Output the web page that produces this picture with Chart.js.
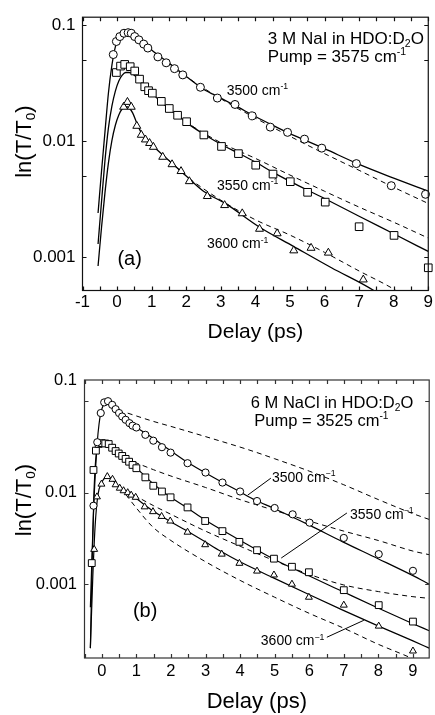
<!DOCTYPE html>
<html><head><meta charset="utf-8">
<script src="https://cdn.jsdelivr.net/npm/chart.js@4.4.1/dist/chart.umd.min.js"></script>
<style>
html,body{margin:0;padding:0;background:#fff;width:435px;height:715px;overflow:hidden;}
#cA{position:absolute;left:0;top:0;}
#cB{position:absolute;left:0;top:357px;}
</style></head><body>
<canvas id="cA" width="435" height="357"></canvas>
<canvas id="cB" width="435" height="358"></canvas>
<script>
// ---------------- Panel (a): 3 M NaI, pump 3575 ----------------
const xTickValuesA = [-1,0,1,2,3,4,5,6,7,8,9];
const xTickLabelsA = ['-1','0','1','2','3','4','5','6','7','8','9'];
const xMinorTicksA = [-1,-0.5,0,0.5,1,1.5,2,2.5,3,3.5,4,4.5,5,5.5,6,6.5,7,7.5,8,8.5,9];
const yTickValuesA = [0.001,0.01,0.1];
const yTickLabelsA = ['0.001','0.01','0.1'];
const yMinorTicksA = [0.001,0.005,0.01,0.05,0.1];

const circA_t = [-0.11,-0.02,0.08,0.20,0.32,0.41,0.51,0.63,0.77,0.89,1.18,1.42,1.66,1.90,2.41,2.90,3.41,3.91,4.43,4.93,5.42,5.92,6.92,7.93,8.92];
const circA_v = [0.0557,0.0722,0.0796,0.085,0.086,0.085,0.0796,0.0746,0.0686,0.0634,0.0532,0.0473,0.0421,0.0372,0.0291,0.0235,0.0207,0.0165,0.0132,0.0119,0.0104,0.0087,0.0064,0.00413,0.00348];
const sqA_t = [-0.02,0.10,0.22,0.38,0.51,0.65,0.80,0.91,1.02,1.28,1.51,1.75,2.01,2.51,3.02,3.51,4.01,4.51,5.01,5.51,6.02,7.00,8.01,9.0];
const sqA_v = [0.039,0.0443,0.0458,0.0438,0.0402,0.0342,0.0294,0.0272,0.0259,0.0220,0.0191,0.0167,0.0147,0.0113,0.0090,0.0078,0.0062,0.0052,0.00447,0.00362,0.00298,0.00183,0.00154,0.00081];
const triA_t = [0.19,0.30,0.41,0.57,0.70,0.82,0.94,1.05,1.32,1.59,1.85,2.09,2.61,3.11,3.62,4.12,4.63,5.11,5.61,6.11,7.12];
const triA_v = [0.0197,0.0217,0.0197,0.0135,0.0113,0.0103,0.0096,0.0089,0.0073,0.0063,0.0055,0.0045,0.00335,0.0028,0.00238,0.00175,0.0016,0.00114,0.0012,0.00109,0.00064];

const fitA3500_t = [-0.55,-0.45,-0.35,-0.25,-0.15,-0.05,0.05,0.15,0.25,0.35,0.5,0.75,1.0,1.5,2.0,2.5,3.0,3.5,4.0,4.5,5.0,5.5,6.0,7.0,8.0,9.0];
const fitA3500_v = [0.0024,0.0055,0.012,0.026,0.045,0.065,0.079,0.086,0.088,0.087,0.082,0.071,0.061,0.047,0.036,0.028,0.0235,0.0196,0.0163,0.0137,0.0116,0.0100,0.0086,0.0063,0.0048,0.0037];
const fitA3550_t = [-0.55,-0.45,-0.35,-0.25,-0.15,-0.05,0.05,0.15,0.25,0.35,0.5,0.65,0.8,1.0,1.25,1.5,1.75,2.0,2.5,3.0,3.5,4.0,4.5,5.0,6.0,7.0,8.0,9.0];
const fitA3550_v = [0.0013,0.003,0.0068,0.013,0.020,0.027,0.033,0.037,0.039,0.039,0.037,0.0335,0.0295,0.026,0.022,0.019,0.0167,0.0145,0.0115,0.0094,0.0079,0.0066,0.0054,0.0045,0.0032,0.00225,0.00159,0.00112];
const fitA3600_t = [-0.55,-0.45,-0.35,-0.25,-0.15,-0.05,0.05,0.15,0.25,0.35,0.45,0.57,0.7,0.85,1.0,1.5,2.0,2.5,3.14,4.1,5.1,6.2,7.45,7.7];
const fitA3600_v = [0.00084,0.0018,0.0036,0.0065,0.0101,0.0137,0.0168,0.019,0.0198,0.0193,0.0175,0.0143,0.0118,0.0103,0.0093,0.0068,0.0050,0.0037,0.00289,0.00183,0.00124,0.00081,0.00051,0.00045];

const dashA3500_t = [1.5,2,3,4,5,6,7,8,9];
const dashA3500_v = [0.047,0.036,0.0232,0.0158,0.0110,0.0078,0.0056,0.0040,0.0029];
const dashA3550_t = [1.75,2,3,4,5,6,7,8,9];
const dashA3550_v = [0.0167,0.0146,0.0097,0.0071,0.0051,0.0037,0.0027,0.0020,0.00146];
const dashA3600_t = [1.5,2,3,4,5,6,7,8,8.3];
const dashA3600_v = [0.0068,0.0050,0.0031,0.0021,0.00155,0.0011,0.00076,0.00053,0.00046];

// ---------------- Panel (b): 6 M NaCl, pump 3525 ----------------
const xTickValuesB = [0,1,2,3,4,5,6,7,8,9];
const xTickLabelsB = ['0','1','2','3','4','5','6','7','8','9'];
const xMinorTicksB = [-0.5,0,0.5,1,1.5,2,2.5,3,3.5,4,4.5,5,5.5,6,6.5,7,7.5,8,8.5,9];
const yTickLabelsB = ['0.001','0.01','0.1'];
const yMinorTicksB = [0.001,0.01,0.1];

const circB_t = [-0.24,-0.13,-0.03,0.07,0.18,0.3,0.4,0.5,0.59,0.69,0.8,0.89,1.0,1.26,1.49,1.74,1.99,2.48,3.0,3.49,4.0,4.49,5.0,5.52,6.01,7.0,8.01,9.0];
const circB_v = [0.0072,0.0356,0.0742,0.097,0.100,0.0912,0.0818,0.0742,0.068,0.0626,0.0575,0.054,0.0516,0.0429,0.037,0.0314,0.0274,0.021,0.0166,0.0129,0.0103,0.0081,0.0068,0.0058,0.0047,0.0032,0.00213,0.0014];
const sqB_t = [-0.29,-0.24,-0.17,-0.09,0.0,0.1,0.2,0.3,0.4,0.49,0.59,0.69,0.79,0.89,1.0,1.26,1.49,1.74,1.99,2.48,2.99,3.49,3.98,4.49,4.98,5.5,5.99,7.0,8.01,9.0];
const sqB_v = [0.0017,0.0177,0.0288,0.0341,0.0348,0.0345,0.034,0.031,0.0285,0.0268,0.0252,0.0234,0.0218,0.0201,0.0185,0.0147,0.0119,0.0103,0.0089,0.0069,0.0049,0.0038,0.0029,0.00235,0.0019,0.00155,0.00135,0.00086,0.00059,0.00039];
const triB_t = [-0.22,-0.14,-0.01,0.16,0.31,0.4,0.52,0.63,0.75,0.85,0.98,1.24,1.48,1.73,1.98,2.48,2.99,3.47,3.98,4.49,4.98,5.5,5.99,7.0,8.01,9.0];
const triB_v = [0.0024,0.009,0.0124,0.015,0.014,0.0122,0.0112,0.0105,0.0100,0.0094,0.0089,0.0070,0.0062,0.0055,0.0049,0.0037,0.0027,0.00213,0.00169,0.00139,0.00126,0.00100,0.00072,0.00059,0.000348,0.000186];

const fitB3500_t = [-0.33,-0.28,-0.23,-0.18,-0.13,-0.08,-0.03,0.045,0.115,0.2,0.3,0.4,0.55,0.7,0.9,1.41,1.92,2.42,2.93,3.43,3.94,4.44,4.95,5.96,6.97,7.99,9.0,9.47];
const fitB3500_v = [0.00056,0.0022,0.0075,0.018,0.036,0.056,0.074,0.091,0.099,0.1,0.093,0.083,0.071,0.063,0.055,0.041,0.030,0.0222,0.017,0.0133,0.0105,0.0083,0.0068,0.0045,0.0029,0.0019,0.00124,0.001];
const fitB3550_t = [-0.33,-0.28,-0.23,-0.18,-0.13,-0.06,0.01,0.095,0.2,0.3,0.4,0.6,0.9,1.41,1.92,2.42,2.93,3.43,3.94,4.95,5.96,6.97,7.99,9.0,9.47];
const fitB3550_v = [0.0002,0.0017,0.009,0.022,0.03,0.034,0.0348,0.0346,0.0335,0.031,0.0288,0.025,0.0202,0.0133,0.0093,0.0070,0.0052,0.0040,0.0031,0.0019,0.00125,0.00083,0.00055,0.00037,0.00031];
const fitB3600_t = [-0.33,-0.26,-0.19,-0.11,-0.006,0.095,0.176,0.3,0.4,0.6,0.9,1.41,1.92,2.42,2.93,3.43,3.94,4.95,5.96,6.97,7.99,9.0,9.47];
const fitB3600_v = [0.0002,0.0012,0.0045,0.0095,0.0128,0.0146,0.015,0.014,0.0125,0.0108,0.0092,0.0066,0.0050,0.0039,0.0030,0.0023,0.0018,0.00118,0.00078,0.00052,0.00035,0.00024,0.0002];

const dashB1_t = [0.75,1.5,2,3,4.26,5,6,7,8,9,9.47];
const dashB1_v = [0.074,0.06,0.053,0.041,0.0293,0.0235,0.0172,0.0122,0.0084,0.0059,0.0051];
const dashB2_t = [0.7,1.5,2,3,4,5,6,7,8,9,9.47];
const dashB2_v = [0.0235,0.0178,0.0152,0.0114,0.0084,0.0064,0.0049,0.0038,0.003,0.0023,0.0021];
const dashB3_t = [0.7,1.5,2,3,4,5,6,7,8,9,9.47];
const dashB3_v = [0.0105,0.0072,0.0058,0.0038,0.0026,0.0018,0.00128,0.00098,0.00083,0.00073,0.0007];
const dashB4_t = [0.7,1.0,1.48,2,3,4,5,6,7,8,8.88,9.2];
const dashB4_v = [0.0095,0.0068,0.0042,0.003,0.00176,0.0011,0.00072,0.00048,0.00033,0.00022,0.00016,0.00014];

// ---------------- helpers ----------------
const FONT = '"Liberation Sans", Arial, Helvetica, sans-serif';
const zip = (ts, vs) => ts.map((t, i) => ({x: t, y: vs[i]}));

function richWidth(ctx, runs, size) {
  let w = 0;
  for (const [txt, kind] of runs) {
    const fs = kind ? size * 0.62 : size;
    ctx.font = fs + 'px ' + FONT;
    w += ctx.measureText(txt).width;
  }
  return w;
}
function drawRich(ctx, x, y, runs, size) {
  let cx = x;
  for (const [txt, kind] of runs) {
    let fs = size, dy = 0;
    if (kind === 'sup') { fs = size * 0.62; dy = -size * 0.40; }
    if (kind === 'sub') { fs = size * 0.62; dy = size * 0.20; }
    ctx.font = fs + 'px ' + FONT;
    ctx.fillText(txt, cx, y + dy);
    cx += ctx.measureText(txt).width;
  }
}

const framePlugin = {
  id: 'frameTicks',
  afterDatasetsDraw(chart, args, o) {
    const {ctx, chartArea: a, scales: {x, y}} = chart;
    ctx.save();
    ctx.strokeStyle = o.color; ctx.lineWidth = o.width;
    ctx.strokeRect(a.left, a.top, a.right - a.left, a.bottom - a.top);
    ctx.beginPath();
    for (const v of o.xTicks) {
      const px = Math.round(x.getPixelForValue(v)) + 0.5;
      ctx.moveTo(px, a.bottom); ctx.lineTo(px, a.bottom - o.len);
      ctx.moveTo(px, a.top); ctx.lineTo(px, a.top + o.len);
    }
    for (const v of o.yTicks) {
      const py = Math.round(y.getPixelForValue(v)) + 0.5;
      ctx.moveTo(a.left, py); ctx.lineTo(a.left + o.len, py);
      ctx.moveTo(a.right, py); ctx.lineTo(a.right - o.len, py);
    }
    ctx.stroke();
    ctx.restore();
  }
};

const notesPlugin = {
  id: 'notes',
  afterDraw(chart, args, o) {
    const {ctx, scales: {x, y}} = chart;
    ctx.save();
    ctx.fillStyle = '#000'; ctx.strokeStyle = '#000'; ctx.lineWidth = 1;
    ctx.textBaseline = 'alphabetic'; ctx.textAlign = 'left';
    for (const L of (o.leaders || [])) {
      ctx.beginPath();
      L.forEach((p, i) => {
        const px = x.getPixelForValue(p[0]), py = y.getPixelForValue(p[1]);
        if (i) ctx.lineTo(px, py); else ctx.moveTo(px, py);
      });
      ctx.stroke();
    }
    for (const T of (o.texts || [])) {
      const px = T.px !== undefined ? T.px : x.getPixelForValue(T.t);
      const py = y.getPixelForValue(T.v);
      ctx.save();
      ctx.translate(px, py);
      if (T.rotate) ctx.rotate(-Math.PI / 2);
      const w = richWidth(ctx, T.runs, T.size);
      drawRich(ctx, T.rotate ? -w / 2 : 0, T.size * 0.36, T.runs, T.size);
      ctx.restore();
    }
    ctx.restore();
  }
};

function pointSet(data, style, r) {
  return {data, showLine: false, pointStyle: style, pointRadius: r, pointHoverRadius: r,
    pointBorderColor: '#000', pointBackgroundColor: '#fff', pointBorderWidth: 1, order: 1, clip: false};
}
function lineSet(data, dashed, w) {
  return {data, showLine: true, pointRadius: 0, borderColor: '#000', borderWidth: w,
    borderDash: dashed ? [5, 4] : [], cubicInterpolationMode: 'monotone', fill: false, order: 2};
}

function makeChart(id, cfg) {
  return new Chart(document.getElementById(id), {
    type: 'scatter',
    data: {datasets: cfg.datasets},
    options: {
      responsive: false, animation: false, devicePixelRatio: 1,
      layout: {padding: cfg.padding},
      plugins: {legend: {display: false}, tooltip: {enabled: false},
        frameTicks: cfg.frame, notes: cfg.notes},
      scales: {
        x: {type: 'linear', min: cfg.xMin, max: cfg.xMax,
          grid: {display: false, drawTicks: false}, border: {display: false},
          afterBuildTicks: s => { s.ticks = cfg.xTicks.map(v => ({value: v})); },
          afterFit: s => { s.height = cfg.xHeight; },
          ticks: {color: '#000', font: {family: FONT, size: cfg.tickSize}, padding: cfg.xPad,
            maxRotation: 0, autoSkip: false, callback: (v, i) => cfg.xLabels[i]},
          title: {display: true, text: 'Delay (ps)', color: '#000',
            font: {family: FONT, size: cfg.titleSize}, padding: {top: 0, bottom: cfg.xTitlePad}}},
        y: {type: 'logarithmic', min: cfg.yMin, max: cfg.yMax,
          grid: {display: false, drawTicks: false}, border: {display: false},
          afterBuildTicks: s => { s.ticks = cfg.yTicks(s).map(v => ({value: v})); },
          afterFit: s => { s.width = cfg.yWidth; },
          ticks: {color: '#000', font: {family: FONT, size: cfg.tickSize}, padding: cfg.yPad,
            autoSkip: false, callback: (v, i) => cfg.yLabels[i]}}
      }
    },
    plugins: [framePlugin, notesPlugin]
  });
}

Chart.defaults.font.family = FONT;

// ---------- Panel (a) ----------
makeChart('cA', {
  padding: {left: 0, right: 4.5, top: 12, bottom: 0},
  xMin: -1, xMax: 9, yMin: 0.000516, yMax: 0.1169,
  xHeight: 66.5, yWidth: 82.5, tickSize: 17, titleSize: 21, xPad: 2, yPad: 7, xTitlePad: 12,
  xTicks: xTickValuesA, xLabels: xTickLabelsA,
  yTicks: s => yTickValuesA, yLabels: yTickLabelsA,
  frame: {xTicks: xMinorTicksA, yTicks: yMinorTicksA, len: 4, color: '#111', width: 1.2},
  notes: {
    leaders: [],
    texts: [
      {t: 4.36, v: 0.078, size: 17, runs: [['3 M NaI in HDO:D'], ['2', 'sub'], ['O']]},
      {t: 4.36, v: 0.054, size: 17, runs: [['Pump = 3575 cm'], ['-1', 'sup']]},
      {t: 3.17, v: 0.0276, size: 14, runs: [['3500 cm'], ['-1', 'sup']]},
      {t: 2.89, v: 0.0042, size: 14, runs: [['3550 cm'], ['-1', 'sup']]},
      {t: 2.60, v: 0.00132, size: 14, runs: [['3600 cm'], ['-1', 'sup']]},
      {t: 0.01, v: 0.00098, size: 20, runs: [['(a)']]},
      {px: 23, v: 0.0099, size: 22, rotate: true, runs: [['ln(T/T'], ['0', 'sub'], [')']]}
    ]
  },
  datasets: [
    pointSet(zip(circA_t, circA_v), 'circle', 4),
    pointSet(zip(sqA_t, sqA_v), 'rect', 5.4),
    pointSet(zip(triA_t, triA_v), 'triangle', 4.6),
    lineSet(zip(fitA3500_t, fitA3500_v), false, 1.3),
    lineSet(zip(fitA3550_t, fitA3550_v), false, 1.3),
    lineSet(zip(fitA3600_t, fitA3600_v), false, 1.3),
    lineSet(zip(dashA3500_t, dashA3500_v), true, 1),
    lineSet(zip(dashA3550_t, dashA3550_v), true, 1),
    lineSet(zip(dashA3600_t, dashA3600_v), true, 1)
  ]
});

// ---------- Panel (b) ----------
makeChart('cB', {
  padding: {left: 0, right: 4.5, top: 23, bottom: 0},
  xMin: -0.5, xMax: 9.47, yMin: 0.000156, yMax: 0.1704,
  xHeight: 57, yWidth: 84.5, tickSize: 16.5, titleSize: 22, xPad: 4, yPad: 7.5, xTitlePad: 0,
  xTicks: xTickValuesB, xLabels: xTickLabelsB,
  yTicks: s => [0.001, 0.01, s.max], yLabels: yTickLabelsB,
  frame: {xTicks: xMinorTicksB, yTicks: yMinorTicksB, len: 4, color: '#333', width: 1.2},
  notes: {
    leaders: [
      [[4.22, 0.0094], [4.89, 0.0144]],
      [[5.19, 0.00193], [7.09, 0.0060]],
      [[6.51, 0.000263], [7.58, 0.000403]]
    ],
    texts: [
      {t: 4.31, v: 0.099, size: 16.5, runs: [['6 M NaCl in HDO:D'], ['2', 'sub'], ['O']]},
      {t: 4.41, v: 0.0626, size: 16.5, runs: [['Pump = 3525 cm'], ['-1', 'sup']]},
      {t: 4.92, v: 0.015, size: 14, runs: [['3500 cm'], ['\u22121', 'sup']]},
      {t: 7.18, v: 0.0059, size: 14, runs: [['3550 cm'], ['\u22121', 'sup']]},
      {t: 4.60, v: 0.000244, size: 14, runs: [['3600 cm'], ['\u22121', 'sup']]},
      {t: 0.90, v: 0.00052, size: 20, runs: [['(b)']]},
      {px: 23, v: 0.0083, size: 22, rotate: true, runs: [['ln(T/T'], ['0', 'sub'], [')']]}
    ]
  },
  datasets: [
    pointSet(zip(circB_t, circB_v), 'circle', 3.6),
    pointSet(zip(sqB_t, sqB_v), 'rect', 4.8),
    pointSet(zip(triB_t, triB_v), 'triangle', 4),
    lineSet(zip(fitB3500_t, fitB3500_v), false, 1.2),
    lineSet(zip(fitB3550_t, fitB3550_v), false, 1.2),
    lineSet(zip(fitB3600_t, fitB3600_v), false, 1.2),
    lineSet(zip(dashB1_t, dashB1_v), true, 1),
    lineSet(zip(dashB2_t, dashB2_v), true, 1),
    lineSet(zip(dashB3_t, dashB3_v), true, 1),
    lineSet(zip(dashB4_t, dashB4_v), true, 1)
  ]
});
</script>
</body></html>
